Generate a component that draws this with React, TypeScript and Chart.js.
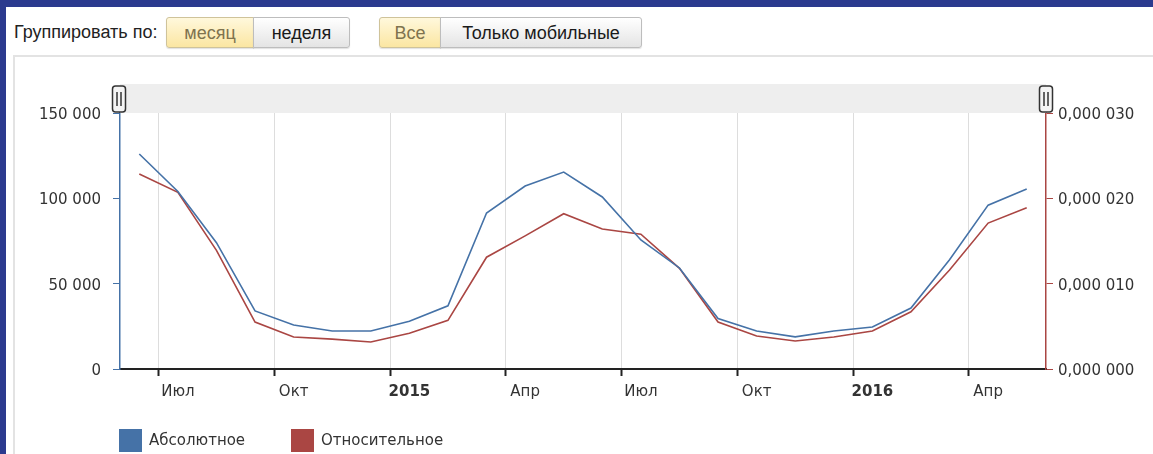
import React, { useEffect, useRef } from "react";
import { Chart, registerables } from "chart.js";

Chart.register(...registerables);

// Months Jun 2014 .. May 2016 (points placed at month middles)
const monthNames = [
  "Июн 2014", "Июл 2014", "Авг 2014", "Сен 2014", "Окт 2014", "Ноя 2014", "Дек 2014",
  "Янв 2015", "Фев 2015", "Мар 2015", "Апр 2015", "Май 2015", "Июн 2015", "Июл 2015",
  "Авг 2015", "Сен 2015", "Окт 2015", "Ноя 2015", "Дек 2015", "Янв 2016", "Фев 2016",
  "Мар 2016", "Апр 2016", "Май 2016",
];

const absoluteValues = [
  126000, 104000, 74000, 34000, 25800, 22300, 22300, 28000, 37000, 91400, 107200, 115400,
  100800, 75600, 59200, 29600, 22300, 18800, 22300, 24600, 35700, 64000, 96000, 105500,
];

const relativeValues = [
  0.00002285, 0.0000207, 0.0000139, 0.0000055, 0.00000375, 0.0000035, 0.00000316, 0.0000042,
  0.0000057, 0.0000131, 0.0000156, 0.0000182, 0.0000164, 0.0000158, 0.0000118, 0.0000055,
  0.00000387, 0.00000328, 0.00000375, 0.00000445, 0.0000067, 0.0000116, 0.0000171, 0.0000189,
];

const xTickMonths = [1, 4, 7, 10, 13, 16, 19, 22];
const xTickLabels = ["Июл", "Окт", "2015", "Апр", "Июл", "Окт", "2016", "Апр"];
const yearLabels = ["2015", "2016"];
const leftTicks = [0, 50000, 100000, 150000];
const rightTicks = [0, 0.00001, 0.00002, 0.00003];

const seriesNames = ["Абсолютное", "Относительное"];
const BLUE = "#4572a7";
const RED = "#aa4643";
const TICK_FONT = '"DejaVu Sans", Verdana, sans-serif';

function formatLeft(v: number): string {
  const n = Math.round(v);
  return String(n).replace(/\B(?=(\d{3})+(?!\d))/g, " ");
}

function formatRight(v: number): string {
  const micro = Math.round(v * 1e6);
  return "0,000 " + String(micro).padStart(3, "0");
}

const decorPlugin = {
  id: "decor",
  beforeDatasetsDraw(chart: any) {
    const { ctx, chartArea } = chart;
    ctx.save();
    ctx.fillStyle = "#eeeeee";
    ctx.fillRect(chartArea.left, 84, chartArea.right - chartArea.left, chartArea.top - 84);
    ctx.restore();
  },
  afterDraw(chart: any) {
    const { ctx, chartArea } = chart;
    ctx.save();
    // navigator handles
    const drawHandle = (cx: number) => {
      const w = 13;
      const h = 26;
      const x = cx - w / 2;
      const y = 86;
      const r = 3;
      ctx.beginPath();
      ctx.moveTo(x + r, y);
      ctx.lineTo(x + w - r, y);
      ctx.quadraticCurveTo(x + w, y, x + w, y + r);
      ctx.lineTo(x + w, y + h - r);
      ctx.quadraticCurveTo(x + w, y + h, x + w - r, y + h);
      ctx.lineTo(x + r, y + h);
      ctx.quadraticCurveTo(x, y + h, x, y + h - r);
      ctx.lineTo(x, y + r);
      ctx.quadraticCurveTo(x, y, x + r, y);
      ctx.closePath();
      ctx.fillStyle = "#f4f4f4";
      ctx.fill();
      ctx.lineWidth = 1.5;
      ctx.strokeStyle = "#333333";
      ctx.stroke();
      ctx.beginPath();
      ctx.lineWidth = 1.5;
      ctx.moveTo(cx - 2, y + 6);
      ctx.lineTo(cx - 2, y + h - 6);
      ctx.moveTo(cx + 2, y + 6);
      ctx.lineTo(cx + 2, y + h - 6);
      ctx.stroke();
    };
    drawHandle(chartArea.left - 1);
    drawHandle(chartArea.right);

    // legend
    const items = [
      { x: 119, color: BLUE, text: seriesNames[0] },
      { x: 291, color: RED, text: seriesNames[1] },
    ];
    ctx.font = "15px " + TICK_FONT;
    ctx.textBaseline = "middle";
    ctx.textAlign = "left";
    items.forEach((it) => {
      ctx.fillStyle = it.color;
      ctx.fillRect(it.x, 429, 23, 23);
      ctx.fillStyle = "#333333";
      ctx.fillText(it.text, it.x + 30, 441);
    });
    ctx.restore();
  },
};

function ChartCanvas() {
  const ref = useRef<HTMLCanvasElement | null>(null);
  useEffect(() => {
    if (!ref.current) return;
    const chart = new Chart(ref.current, {
      type: "line",
      data: {
        datasets: [
          {
            label: seriesNames[0],
            data: absoluteValues.map((v, i) => ({ x: i + 0.5, y: v })),
            borderColor: BLUE,
            backgroundColor: BLUE,
            borderWidth: 1.6,
            pointRadius: 0,
            tension: 0,
            yAxisID: "y",
          },
          {
            label: seriesNames[1],
            data: relativeValues.map((v, i) => ({ x: i + 0.5, y: v })),
            borderColor: RED,
            backgroundColor: RED,
            borderWidth: 1.6,
            pointRadius: 0,
            tension: 0,
            yAxisID: "y1",
          },
        ],
      },
      options: {
        responsive: false,
        animation: false,
        devicePixelRatio: 1,
        layout: { padding: { top: 113, bottom: 55, left: 0, right: 0 } },
        plugins: {
          legend: { display: false },
          tooltip: { enabled: false },
        },
        scales: {
          x: {
            type: "linear",
            min: 0,
            max: 24,
            afterBuildTicks: (axis: any) => {
              axis.ticks = xTickMonths.map((v) => ({ value: v }));
            },
            afterFit: (axis: any) => {
              axis.height = 30;
            },
            grid: {
              color: "#dddddd",
              lineWidth: 1,
              drawTicks: true,
              tickLength: 7,
              tickColor: "#222222",
              tickWidth: 2,
            },
            border: { display: true, color: "#222222", width: 2 },
            ticks: {
              autoSkip: false,
              maxRotation: 0,
              labelOffset: 19.3,
              padding: 7,
              color: "#333333",
              font: (ctx: any) => ({
                family: TICK_FONT,
                size: 15,
                weight: ctx.tick && yearLabels.includes(xTickLabels[xTickMonths.indexOf(ctx.tick.value)]) ? "bold" : "normal",
              }),
              callback: (_v: any, i: number) => xTickLabels[i],
            },
          },
          y: {
            position: "left",
            min: 0,
            max: 150000,
            afterBuildTicks: (axis: any) => {
              axis.ticks = leftTicks.map((v) => ({ value: v }));
            },
            afterFit: (axis: any) => {
              axis.width = 120;
            },
            grid: { drawOnChartArea: false, drawTicks: true, tickLength: 7, color: BLUE },
            border: { display: true, color: BLUE, width: 1.5 },
            ticks: {
              padding: 12,
              labelOffset: 2,
              color: "#333333",
              font: { family: TICK_FONT, size: 15 },
              callback: (v: any) => formatLeft(Number(v)),
            },
          },
          y1: {
            position: "right",
            min: 0,
            max: 0.00003,
            afterBuildTicks: (axis: any) => {
              axis.ticks = rightTicks.map((v) => ({ value: v }));
            },
            afterFit: (axis: any) => {
              axis.width = 107;
            },
            grid: { drawOnChartArea: false, drawTicks: true, tickLength: 7, color: RED },
            border: { display: true, color: RED, width: 1.5 },
            ticks: {
              padding: 5,
              labelOffset: 2,
              color: "#333333",
              font: { family: TICK_FONT, size: 15 },
              callback: (v: any) => formatRight(Number(v)),
            },
          },
        },
      },
      plugins: [decorPlugin],
    } as any);
    return () => chart.destroy();
  }, []);
  return (
    <canvas
      ref={ref}
      width={1153}
      height={454}
      style={{ position: "absolute", left: 0, top: 0, width: 1153, height: 454 }}
    />
  );
}

function Btn(props: { left: number; width: number; text: string; active: boolean; first: boolean }) {
  const { left, width, text, active, first } = props;
  return (
    <div
      style={{
        position: "absolute",
        left,
        top: 17,
        width,
        height: 31,
        boxSizing: "border-box",
        border: active ? "1px solid #cfc39a" : "1px solid #bdbdbd",
        borderRadius: first ? "3px 0 0 3px" : "0 3px 3px 0",
        background: active
          ? "linear-gradient(#fff8dc, #fbe6a2)"
          : "linear-gradient(#ffffff, #e4e4e4)",
        color: active ? "#7f734f" : "#1a1a1a",
        fontSize: 18,
        lineHeight: "30px",
        textAlign: "center",
        whiteSpace: "nowrap",
        boxShadow: "0 1px 1px rgba(0,0,0,0.12)",
      }}
    >
      {text}
    </div>
  );
}

export default function App() {
  return (
    <div
      style={{
        position: "fixed",
        left: 0,
        top: 0,
        width: 1153,
        height: 454,
        overflow: "hidden",
        background: "#ffffff",
        fontFamily: '"Liberation Sans", Arial, sans-serif',
      }}
    >
      <div style={{ position: "absolute", left: 0, top: 0, width: 1153, height: 7, background: "#2b3a8e" }} />
      <div style={{ position: "absolute", left: 0, top: 0, width: 6, height: 454, background: "#2b3a8e" }} />
      <div style={{ position: "absolute", left: 14, top: 22, fontSize: 18, color: "#222", whiteSpace: "nowrap" }}>
        Группировать по:
      </div>
      <Btn left={166} width={88} text="месяц" active={true} first={true} />
      <Btn left={253} width={97} text="неделя" active={false} first={false} />
      <Btn left={379} width={62} text="Все" active={true} first={true} />
      <Btn left={440} width={202} text="Только мобильные" active={false} first={false} />
      <div
        style={{
          position: "absolute",
          left: 13,
          top: 55,
          width: 1200,
          height: 500,
          border: "2px solid #e3e3e3",
          background: "#ffffff",
        }}
      />
      <ChartCanvas />
    </div>
  );
}
